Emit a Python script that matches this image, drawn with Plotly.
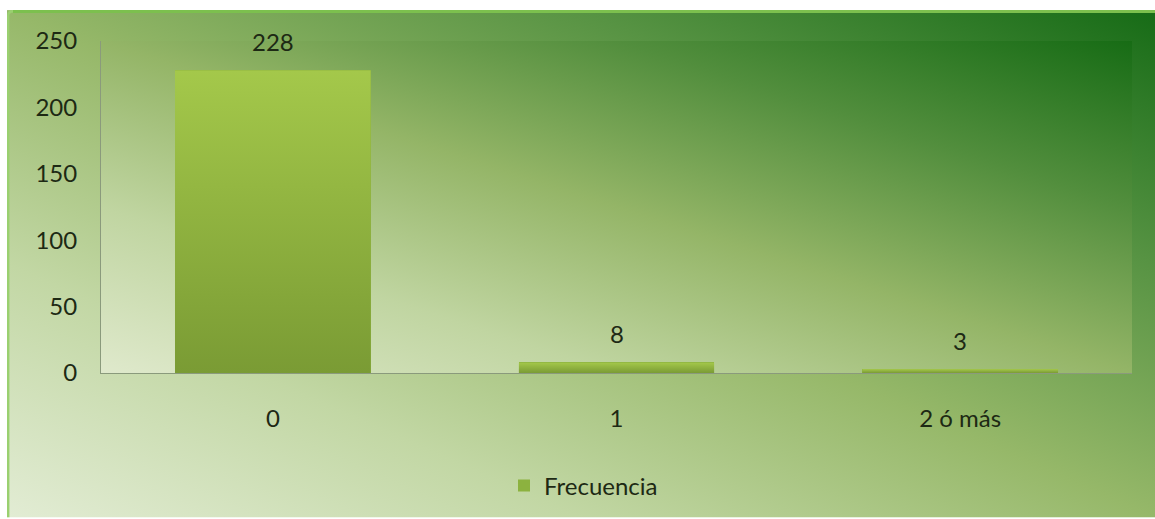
import base64
import plotly.graph_objects as go

# ---- data ----
categories = ["0", "1", "2 ó más"]
frecuencia = [228, 8, 3]
y_ticks = [0, 50, 100, 150, 200, 250]
series_name = "Frecuencia"

# ---- layout constants (pixels) ----
W, H = 1155, 519
PL, PR, PT, PB = 101, 1132, 41, 374
BAR_W = 0.57
FONT = "Lato"
TXT = "#1d2914"
FS = 24


def uri(svg):
    return "data:image/svg+xml;base64," + base64.b64encode(svg.encode("utf-8")).decode()


def grad_svg(w, h, stops, x1, y1, x2, y2, extra=""):
    st = "".join(
        f'<stop offset="{o}" stop-color="{c}" stop-opacity="{a}"/>' for o, c, a in stops
    )
    return (f'<svg xmlns="http://www.w3.org/2000/svg" width="{w}" height="{h}" '
            f'viewBox="0 0 {w} {h}" preserveAspectRatio="none">'
            f'<defs><linearGradient id="g" x1="{x1}" y1="{y1}" x2="{x2}" y2="{y2}">{st}</linearGradient></defs>'
            f'<rect x="0" y="0" width="{w}" height="{h}" fill="url(#g)"/>{extra}</svg>')


bg_stops = [(0, "#e2ecd4", 1), (0.25, "#c2d7a4", 1), (0.5, "#96b869", 1),
            (0.75, "#579343", 1), (1, "#166b16", 1)]
plot_stops = [(0, "#dfe9cc", 1), (0.25, "#c0d5a1", 1), (0.5, "#94b567", 1),
              (0.75, "#528e3d", 1), (1, "#176c15", 1)]
bar_stops = [(0, "#b4d752", 0.6), (1, "#6e8c2d", 0.6)]

# border only on top and left edges (the others fall outside the page)
BW, BH = W - 7, H - 10
border = (f'<path d="M1.2 {BH} L1.2 6 Q1.2 1.2 6 1.2 L{BW} 1.2" fill="none" '
          f'stroke="#9ad070" stroke-width="2.4"/>'
          f'<line x1="6" y1="1.4" x2="{BW}" y2="1.4" stroke="#7cc04e" stroke-width="2.8"/>')

pw, ph = PR - PL, PB - PT
images = []
images.append(dict(
    source=uri(grad_svg(BW, BH, bg_stops, 0, 1, 1, 0, extra=border)),
    xref="paper", yref="paper", x=(7 - PL) / pw, y=(PB - 10) / ph,
    sizex=BW / pw, sizey=BH / ph, xanchor="left", yanchor="top",
    sizing="stretch", layer="below"))
images.append(dict(
    source=uri(grad_svg(pw, ph, plot_stops, 0, 1, 1, 0)),
    xref="paper", yref="paper", x=0, y=1, sizex=1, sizey=1,
    xanchor="left", yanchor="top", sizing="stretch", layer="below"))
bar_grad = uri(grad_svg(100, 100, bar_stops, 0, 0, 0, 1))
for i, v in enumerate(frecuencia):
    images.append(dict(
        source=bar_grad, xref="x", yref="y", x=i - BAR_W / 2, y=v,
        sizex=BAR_W, sizey=v, xanchor="left", yanchor="top",
        sizing="stretch", layer="above"))

fig = go.Figure()
fig.add_trace(go.Bar(
    x=list(range(len(categories))), y=frecuencia, name=series_name,
    width=BAR_W, marker=dict(color="#8cb23f", line=dict(width=0)),
    showlegend=True))

annotations = [dict(x=i, y=v, xref="x", yref="y", text=str(v), showarrow=False,
                    yanchor="bottom", yshift=12, font=dict(family=FONT, size=FS, color=TXT))
               for i, v in enumerate(frecuencia)]

fig.update_layout(
    width=W, height=H,
    margin=dict(l=PL, r=W - PR, t=PT, b=H - PB, pad=0),
    paper_bgcolor="white", plot_bgcolor="rgba(0,0,0,0)",
    font=dict(family=FONT, size=FS, color=TXT),
    images=images, annotations=annotations,
    showlegend=True,
    legend=dict(orientation="h", x=(504 - PL) / pw, xanchor="left",
                y=(PB - 486) / ph, yanchor="middle",
                bgcolor="rgba(0,0,0,0)", font=dict(family=FONT, size=FS, color=TXT)),
    bargap=0,
)
fig.update_xaxes(
    range=[-0.5, len(categories) - 0.5], tickvals=list(range(len(categories))),
    ticktext=categories, showgrid=False, zeroline=False,
    showline=True, linecolor="#8a9a7c", linewidth=1, ticks="",
    ticklabelstandoff=24, fixedrange=True)
fig.update_yaxes(
    range=[0, 250], tickvals=y_ticks, showgrid=False, zeroline=False,
    showline=True, linecolor="#8a9a7c", linewidth=1, ticks="",
    ticklabelstandoff=18, fixedrange=True)

fig.write_html("out.html")
